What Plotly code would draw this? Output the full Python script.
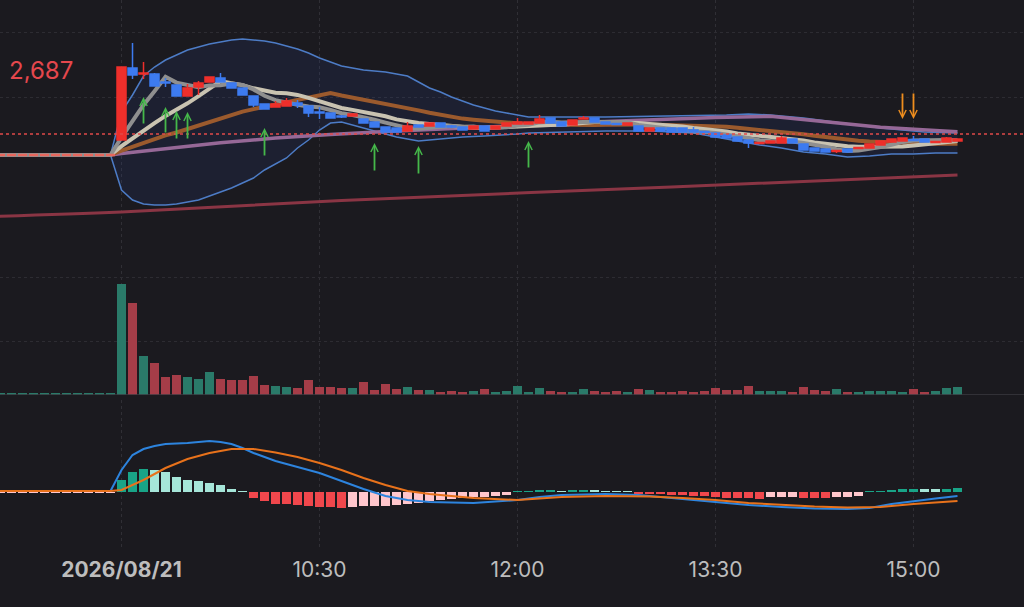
import pandas as pd
import plotly.graph_objects as go
from plotly.subplots import make_subplots

DAY = "2026-08-21 "

# pre-market bars 08:00 .. 08:55 (flat at previous close)
pre_close = [2599, 2599, 2599, 2599, 2599, 2599, 2599, 2599, 2599, 2599, 2599, 2599]
pre_volume = [1500, 1500, 1500, 1500, 1500, 1500, 1500, 1500, 1500, 1500, 1500, 1500]
pre_hist = [-0.5, -0.5, -0.5, -0.5, -0.5, -0.5, -0.5, -0.5, -0.5, -0.5, -0.5, -0.5]

# 5-minute bars 09:00 .. 15:20
bar_open = [2614, 2686, 2680, 2680, 2672, 2669, 2658, 2667, 2672, 2676,
            2671, 2666, 2658, 2650, 2647, 2648, 2651, 2648, 2642, 2641,
            2638, 2638, 2635, 2632, 2627, 2626, 2623, 2629, 2628, 2631,
            2628, 2627, 2625, 2628, 2625, 2628, 2630, 2630, 2631, 2636,
            2632, 2629, 2635, 2636, 2632, 2630.5, 2629, 2628, 2623, 2626,
            2626, 2626, 2624, 2622.5, 2621, 2619, 2617, 2614, 2610.5, 2611,
            2611, 2615, 2610, 2606, 2605, 2602.5, 2605, 2605.5, 2606, 2609,
            2612, 2613, 2614.5, 2615, 2611.5, 2612, 2613]
bar_high = [2687, 2711, 2692, 2681, 2676, 2669, 2670, 2673, 2677, 2681,
            2671, 2666, 2658, 2650, 2653, 2656, 2654, 2648, 2647, 2641,
            2639, 2641, 2635, 2632, 2627, 2626, 2632, 2629, 2631, 2631,
            2629, 2627, 2628, 2628, 2628, 2631, 2636, 2632, 2639, 2636,
            2632, 2634, 2638, 2636, 2632, 2631, 2631, 2628, 2626, 2626,
            2626, 2626, 2627, 2623, 2621, 2619, 2617, 2614, 2612, 2613,
            2618, 2615, 2610, 2606, 2605, 2604, 2605, 2607, 2610, 2613,
            2615, 2616, 2618, 2615, 2613, 2617, 2615]
bar_low = [2614, 2675, 2675, 2668, 2667, 2658, 2658, 2659, 2672, 2672,
           2666, 2659, 2647, 2645, 2647, 2648, 2646, 2637, 2635, 2636,
           2636, 2638, 2631, 2627, 2622, 2622, 2623, 2627, 2628, 2627,
           2626, 2624, 2625, 2623, 2625, 2628, 2630, 2630, 2631, 2631,
           2628, 2629, 2635, 2632, 2630, 2629, 2629, 2623, 2623, 2623,
           2622, 2622, 2622, 2621, 2617, 2616, 2613, 2606, 2610, 2611,
           2611, 2611, 2604, 2603, 2602, 2601, 2601, 2605, 2606, 2609,
           2612, 2613, 2613, 2612, 2611, 2612, 2613]
bar_close = [2687, 2679, 2681, 2668, 2671, 2658, 2666, 2671, 2677, 2672,
             2666, 2659, 2649, 2645, 2650, 2653, 2649, 2641, 2641, 2636,
             2637, 2640, 2631, 2627, 2622, 2622, 2628, 2627, 2631, 2627,
             2627, 2624, 2628, 2623, 2628, 2631, 2632, 2632, 2635, 2631,
             2628, 2634, 2636, 2632, 2630, 2629.5, 2631, 2623, 2626, 2623,
             2622, 2622, 2622, 2621.5, 2617, 2616, 2613, 2611, 2611.5, 2613,
             2616, 2611, 2604, 2603, 2602, 2603.5, 2602, 2606.5, 2610, 2613,
             2615, 2616, 2613.5, 2612, 2612.5, 2616, 2615]
bar_volume = [111000, 92000, 39000, 32000, 17700, 20000, 17700, 15700, 23000, 15700,
              15000, 15000, 19300, 10000, 9000, 8300, 6700, 15000, 8300, 8300,
              6700, 6700, 13000, 5000, 11000, 5700, 8300, 5000, 5000, 3300,
              4300, 3300, 4300, 5700, 3300, 4300, 9000, 3300, 7300, 4300,
              3000, 3000, 6300, 4300, 3000, 4300, 3000, 6300, 5000, 3000,
              3000, 4300, 3000, 4300, 7300, 5000, 5000, 9000, 4300, 4300,
              4300, 3000, 7700, 5000, 4300, 6300, 3000, 3000, 4300, 4300,
              4300, 3000, 6300, 3000, 4300, 7300, 8300]

# moving averages read per bar (09:00 .. 15:20)
ma5 = [2616.6, 2632.6, 2649, 2662.8, 2677.2, 2671.4, 2668.8, 2666.8, 2668.6, 2668.8,
       2670.4, 2669, 2664.6, 2658.2, 2653.8, 2651.2, 2649.2, 2647.6, 2646.8, 2644,
       2640.8, 2639, 2637, 2634.2, 2631.4, 2628.4, 2626, 2625.2, 2626, 2627,
       2628, 2627.2, 2627.4, 2625.8, 2626, 2626.8, 2628.4, 2629.2, 2631.6, 2632.2,
       2631.6, 2632, 2632.8, 2632.2, 2632, 2632.3, 2631.7, 2629.1, 2627.9, 2626.5,
       2625, 2623.2, 2623, 2622.1, 2620.9, 2619.7, 2617.9, 2615.7, 2613.7, 2612.9,
       2612.9, 2612.5, 2611.1, 2609.4, 2607.2, 2604.7, 2602.9, 2603.4, 2604.8, 2607,
       2609.3, 2612.1, 2613.5, 2613.9, 2613.8, 2614, 2613.8]
ma10 = [2607.8, 2615.8, 2624, 2630.9, 2638.1, 2644, 2650.7, 2657.9, 2665.7, 2673,
        2670.9, 2668.9, 2665.7, 2663.4, 2661.3, 2660.8, 2659.1, 2656.1, 2652.5, 2648.9,
        2646, 2644.1, 2642.3, 2640.5, 2637.7, 2634.6, 2632.5, 2631.1, 2630.1, 2629.2,
        2628.2, 2626.6, 2626.3, 2625.9, 2626.5, 2627.4, 2627.8, 2628.3, 2628.7, 2629.1,
        2629.2, 2630.2, 2631, 2631.9, 2632.1, 2632, 2631.9, 2631, 2630, 2629.3,
        2628.7, 2627.5, 2626, 2625, 2623.7, 2622.4, 2620.6, 2619.4, 2617.9, 2616.9,
        2616.3, 2615.2, 2613.4, 2611.6, 2610, 2608.8, 2607.7, 2607.3, 2607.1, 2607.1,
        2607, 2607.5, 2608.5, 2609.4, 2610.4, 2611.7, 2613]
ma20 = [2603.4, 2607.4, 2611.5, 2615, 2618.6, 2621.5, 2624.9, 2628.5, 2632.4, 2636,
        2639.4, 2642.4, 2644.9, 2647.2, 2649.7, 2652.4, 2654.9, 2657, 2659.1, 2661,
        2658.5, 2656.5, 2654, 2652, 2649.5, 2647.7, 2645.8, 2643.6, 2641.3, 2639,
        2637.1, 2635.4, 2634.3, 2633.2, 2632.1, 2631, 2630.2, 2629.7, 2629.4, 2629.2,
        2628.7, 2628.4, 2628.7, 2628.9, 2629.3, 2629.7, 2629.8, 2629.6, 2629.4, 2629.2,
        2628.9, 2628.8, 2628.5, 2628.5, 2627.9, 2627.2, 2626.2, 2625.2, 2624, 2623.1,
        2622.5, 2621.3, 2619.7, 2618.3, 2616.9, 2615.6, 2614.1, 2613.3, 2612.5, 2612,
        2611.7, 2611.4, 2610.9, 2610.5, 2610.2, 2610.2, 2610.3]

# slower lines, read at selected times
ma60_t = ["08:00", "08:55", "09:00", "09:20", "09:45", "10:10", "10:35", "11:00", "11:25",
          "11:50", "12:15", "12:40", "13:05", "13:30", "13:55", "14:20", "14:45", "15:10", "15:20"]
ma60 = [2599, 2599, 2600.5, 2605.5, 2611.3, 2615.9, 2619.6, 2622.4, 2624.7,
        2626.9, 2629.7, 2632.5, 2634.7, 2636.6, 2637.7, 2631.9, 2626.7, 2623.4, 2622.2]
ma_long_t = ["08:00", "09:00", "10:40", "13:10", "15:20"]
ma_long = [2537.5, 2542, 2553.5, 2567, 2579]

bb_up_t = ["08:00", "08:55", "09:00", "09:05", "09:10", "09:15", "09:20", "09:25", "09:30",
           "09:35", "09:40", "09:45", "09:50", "09:55", "10:00", "10:05", "10:10", "10:15",
           "10:20", "10:25", "10:30", "10:35", "10:40", "10:45", "10:50", "10:55", "11:00",
           "11:05", "11:10", "11:15", "11:20", "11:25", "11:30", "11:35", "11:40", "11:45",
           "11:50", "11:55", "12:00", "12:05", "12:40", "13:10", "13:35", "13:45", "13:55",
           "14:10", "14:20", "14:35", "14:45", "14:55", "15:05", "15:20"]
bb_up = [2599, 2599, 2642, 2659, 2678, 2687, 2694, 2699, 2704,
         2707, 2710, 2712, 2714, 2715, 2714, 2713, 2711, 2708,
         2705, 2701, 2696, 2692, 2688, 2686, 2684, 2683, 2682,
         2680, 2678, 2672, 2666, 2662, 2657, 2653, 2649, 2646,
         2643, 2641, 2639, 2637, 2637, 2638, 2639, 2640, 2639,
         2636, 2633, 2629, 2626, 2624, 2622, 2621]
bb_lo_t = ["08:00", "08:55", "09:00", "09:05", "09:10", "09:15", "09:20", "09:25", "09:30",
           "09:35", "09:40", "09:45", "09:50", "09:55", "10:00", "10:05", "10:10", "10:15",
           "10:20", "10:25", "10:30", "10:35", "10:40", "10:45", "10:50", "10:55", "11:00",
           "11:05", "11:10", "11:15", "11:20", "11:25", "11:30", "11:35", "11:45", "11:55",
           "12:00", "12:05", "12:20", "12:40", "13:00", "13:20", "13:30", "13:40", "13:50",
           "14:00", "14:10", "14:20", "14:30", "14:40", "14:50", "15:00", "15:10", "15:20"]
bb_lo = [2599, 2599, 2564, 2554, 2550, 2549, 2549, 2550, 2552,
         2554, 2558, 2562, 2566, 2571, 2576, 2584, 2590, 2596,
         2606, 2614, 2624, 2631, 2632, 2629, 2626, 2623, 2620,
         2617, 2615, 2613, 2614, 2615, 2616, 2617, 2618, 2619,
         2620, 2621, 2622, 2623, 2623, 2621, 2617, 2613, 2609,
         2606, 2602, 2600, 2597, 2598, 2600, 2600, 2601, 2601]

ref_price = 2620
high_label = "2,687"

# MACD
macd_t = ["08:00", "08:55", "09:00", "09:05", "09:10", "09:15", "09:20", "09:30", "09:40",
          "09:45", "09:50", "09:55", "10:00", "10:05", "10:10", "10:20", "10:30", "10:40",
          "10:50", "11:00", "11:10", "11:20", "11:40", "12:00", "12:10", "12:20", "12:40",
          "12:55", "13:05", "13:15", "13:30", "13:45", "14:00", "14:15", "14:30", "14:40",
          "14:50", "15:00", "15:10", "15:20"]
macd = [1, 1, 22, 37, 43, 46, 48, 49, 51,
        50, 48, 44, 39, 35, 31, 25, 19, 11,
        3, -4, -8, -10, -11, -8, -5, -3, -2,
        -3, -5, -7, -10, -13, -15, -16.5, -17, -16,
        -12, -9, -6.5, -4]
signal_t = ["08:00", "08:55", "09:00", "09:05", "09:10", "09:20", "09:30", "09:40", "09:50",
            "10:00", "10:10", "10:20", "10:30", "10:40", "10:50", "11:00", "11:10", "11:20",
            "11:40", "12:00", "12:20", "12:40", "13:00", "13:15", "13:30", "13:45", "14:00",
            "14:15", "14:30", "14:45", "15:00", "15:10", "15:20"]
signal = [1, 1, 2, 7, 12, 24, 33, 39, 43,
          43, 39.5, 35, 29, 22, 14, 7, 1, -2,
          -6, -8, -5, -4, -4.5, -6, -8, -11, -13,
          -14.5, -15.5, -15, -12, -10.5, -9]
hist = [12.5, 20.5, 23, 22, 20.5, 15.5, 12.5, 11, 9.5, 7,
        3.5, 0.5, -5.5, -8.5, -11.5, -12, -12.5, -14, -14.5, -15,
        -15.5, -14.5, -14.2, -14, -13.6, -13, -12, -11.3, -8.7, -8,
        -7.3, -5.5, -5.3, -4.7, -4, -3, 0.5, 0.6, 2, 2.1,
        1, 2, 2.1, 1.8, 1, 0.9, 0.8, -2, -2.1, -2.2,
        -3, -3.1, -4, -4.1, -4.7, -5.7, -6.3, -6.4, -6.7, -5.3,
        -5.1, -5, -5.7, -6, -6.3, -5.3, -5, -4, 0.4, 0.5,
        2, 3, 3.3, 3, 2.7, 3.3, 3.7]

# signal arrows (bar time, head price, tail price)
buy_arrows = [("09:10", 2657, 2629), ("09:20", 2647, 2620), ("09:25", 2643, 2614),
              ("09:30", 2642, 2614), ("10:05", 2626, 2597), ("10:55", 2611, 2582),
              ("11:15", 2608, 2579), ("12:05", 2613, 2585)]
sell_arrows = [("14:55", 2635, 2662), ("15:00", 2635, 2662)]

tick_times = ["09:00", "10:30", "12:00", "13:30", "15:00"]
tick_text = ["<b>2026/08/21</b>", "10:30", "12:00", "13:30", "15:00"]

BG = "#1b1a1f"
UP = "#ee2f2b"
DOWN = "#3d7bf0"
PRICE_RANGE = [2499, 2754]


def ts(hhmm):
    return pd.Timestamp(DAY + hhmm)


def main():
    bar_time = pd.date_range(DAY + "09:00", periods=len(bar_close), freq="5min")
    pre_time = pd.date_range(DAY + "08:00", periods=len(pre_close), freq="5min")
    all_time = list(pre_time) + list(bar_time)

    fig = make_subplots(rows=3, cols=1, shared_xaxes=True, vertical_spacing=0.01)

    # bollinger band area
    bx = [ts(t) for t in bb_up_t] + [ts(t) for t in bb_lo_t][::-1]
    by = bb_up + bb_lo[::-1]
    fig.add_trace(go.Scatter(x=bx, y=by, fill="toself", fillcolor="rgba(45,75,170,0.13)",
                             line=dict(width=0), mode="lines", hoverinfo="skip"), row=1, col=1)
    for tt, vv in ((bb_up_t, bb_up), (bb_lo_t, bb_lo)):
        fig.add_trace(go.Scatter(x=[ts(t) for t in tt], y=vv, mode="lines",
                                 line=dict(color="#4d7cc6", width=1.5)), row=1, col=1)

    fig.add_trace(go.Scatter(x=[ts(t) for t in ma_long_t], y=ma_long, mode="lines",
                             line=dict(color="#8a3544", width=3, shape="spline")), row=1, col=1)
    fig.add_trace(go.Scatter(x=[ts(t) for t in ma60_t], y=ma60, mode="lines",
                             line=dict(color="#966897", width=3.5)), row=1, col=1)
    pre2 = [pre_time[0], pre_time[-1]]
    for vals, col, w in ((ma20, "#9b5a2d", 4), (ma10, "#c9c3b1", 4), (ma5, "#8f8f8f", 4)):
        fig.add_trace(go.Scatter(x=pre2 + list(bar_time), y=[pre_close[0], pre_close[-1]] + vals,
                                 mode="lines", line=dict(color=col, width=w)), row=1, col=1)

    # candles live on an overlaid price axis so they are drawn above the lines
    pre_col = "#e8675d"
    fig.add_trace(go.Candlestick(x=pre_time, open=pre_close, high=pre_close, low=pre_close,
                                 close=pre_close, xaxis="x", yaxis="y4",
                                 increasing=dict(line=dict(color=pre_col, width=2.5), fillcolor=pre_col),
                                 decreasing=dict(line=dict(color=pre_col, width=2.5), fillcolor=pre_col)))
    fig.add_trace(go.Candlestick(x=bar_time, open=bar_open, high=bar_high, low=bar_low, close=bar_close,
                                 xaxis="x", yaxis="y4",
                                 increasing=dict(line=dict(color=UP, width=1.5), fillcolor=UP),
                                 decreasing=dict(line=dict(color=DOWN, width=1.5), fillcolor=DOWN)))

    # volume
    vol_col = ["#2a7a69"] * len(pre_volume)
    vol_col += ["#2a7a69" if c >= o else "#a53d48" for o, c in zip(bar_open, bar_close)]
    fig.add_trace(go.Bar(x=all_time, y=pre_volume + bar_volume, width=255000,
                         marker=dict(color=vol_col, line=dict(width=0))), row=2, col=1)

    # macd histogram colours: rising / falling on each side of zero
    hvals = pre_hist + hist
    hcol = []
    prev = hvals[0]
    for v in hvals:
        if v >= 0:
            hcol.append("#19a487" if v >= prev else "#a6e6d9")
        else:
            hcol.append("#f0474c" if v < prev else "#ffc6cc")
        prev = v
    fig.add_trace(go.Bar(x=all_time, y=hvals, width=255000,
                         marker=dict(color=hcol, line=dict(width=0))), row=3, col=1)
    fig.add_trace(go.Scatter(x=[ts(t) for t in macd_t], y=macd, mode="lines",
                             line=dict(color="#2d84de", width=2)), row=3, col=1)
    fig.add_trace(go.Scatter(x=[ts(t) for t in signal_t], y=signal, mode="lines",
                             line=dict(color="#e8721b", width=2)), row=3, col=1)

    # arrows
    for t, head, tail in buy_arrows:
        fig.add_annotation(x=ts(t), y=head, ax=ts(t), ay=tail, xref="x", yref="y", axref="x", ayref="y",
                           text="", showarrow=True, arrowhead=5, arrowsize=0.8, arrowwidth=1.8,
                           arrowcolor="#45b84a")
    for t, head, tail in sell_arrows:
        fig.add_annotation(x=ts(t), y=head, ax=ts(t), ay=tail, xref="x", yref="y", axref="x", ayref="y",
                           text="", showarrow=True, arrowhead=5, arrowsize=0.8, arrowwidth=1.8,
                           arrowcolor="#ee8d1e")

    fig.add_annotation(x=0.007, y=2684, xref="paper", yref="y", text=high_label, showarrow=False,
                       xanchor="left", yanchor="middle", font=dict(size=24, color="#e5474d"))

    fig.add_shape(type="line", xref="paper", x0=0, x1=1, yref="y", y0=ref_price, y1=ref_price,
                  line=dict(color="#e14a4a", width=1.5, dash="dot"))
    fig.add_shape(type="line", xref="paper", x0=0, x1=1, yref="y2", y0=0, y1=0,
                  line=dict(color="#3b3a40", width=1.5))

    x_range = [DAY + "08:04:46", DAY + "15:50:14"]
    fig.update_xaxes(type="date", range=x_range, tickvals=[ts(t) for t in tick_times],
                     ticktext=tick_text, showgrid=True, gridcolor="#302f35", griddash="dot",
                     gridwidth=1, zeroline=False, showline=False, ticks="",
                     rangeslider=dict(visible=False))
    fig.update_xaxes(showticklabels=True, tickfont=dict(size=21, color="#bdbdbd"),
                     ticklabelstandoff=8, row=3, col=1)
    fig.update_yaxes(showticklabels=False, zeroline=False, showline=False, ticks="",
                     gridcolor="#2d2c32", griddash="dot")

    fig.update_layout(
        width=1024, height=607, margin=dict(l=0, r=0, t=0, b=0),
        paper_bgcolor=BG, plot_bgcolor=BG, showlegend=False,
        font=dict(family="Inter, Roboto, sans-serif", color="#bdbdbd"),
        boxgap=0.18, boxgroupgap=0, bargap=0,
        yaxis=dict(domain=[1 - 255 / 607, 1], range=PRICE_RANGE, tickvals=[2722, 2657]),
        yaxis2=dict(domain=[1 - 395 / 607, 1 - 265 / 607], range=[0, 130000], tickvals=[54000, 118000]),
        yaxis3=dict(domain=[1 - 547 / 607, 1 - 400 / 607], range=[-55, 92], showgrid=False),
        yaxis4=dict(overlaying="y", range=PRICE_RANGE, showgrid=False, showticklabels=False,
                    zeroline=False, ticks=""),
    )

    fig.write_html("out.html", config={"displayModeBar": False},
                   post_script="document.body.style.margin='0';"
                               "document.body.style.background='%s';" % BG)


if __name__ == "__main__":
    main()
